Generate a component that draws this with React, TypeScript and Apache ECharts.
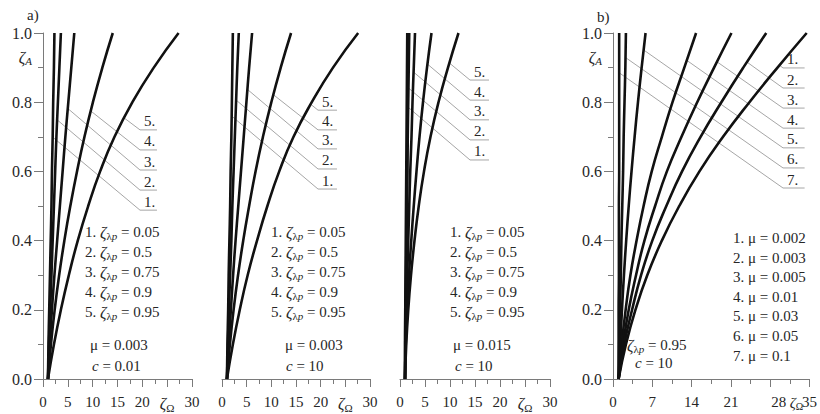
import React, { useEffect, useRef } from "react";
import * as echarts from "echarts";

// ---------- data ----------
const Y_LEVELS = [0, 0.1, 0.2, 0.3, 0.4, 0.5, 0.6, 0.7, 0.8, 0.9, 1.0];

// panel a) left: mu = 0.003, c = 0.01 ; curves 1..5 (zeta_lambda_p = 0.05, 0.5, 0.75, 0.9, 0.95)
const A1_C1 = [1.0, 1.1, 1.25, 1.4, 1.55, 1.7, 1.8, 1.95, 2.05, 2.2, 2.3];
const A1_C2 = [1.0, 1.2, 1.45, 1.7, 1.95, 2.2, 2.45, 2.7, 3.0, 3.3, 3.6];
const A1_C3 = [1.0, 1.35, 1.8, 2.3, 2.85, 3.4, 3.95, 4.5, 5.1, 5.7, 6.3];
const A1_C4 = [1.0, 1.6, 2.35, 3.25, 4.3, 5.5, 6.85, 8.35, 10.05, 11.95, 14.05];
const A1_C5 = [1.0, 2.2, 3.6, 5.2, 7.0, 9.1, 11.5, 14.4, 18.0, 22.3, 27.3];

// panel a) middle: mu = 0.003, c = 10
const A2_C1 = [1.0, 1.1, 1.25, 1.35, 1.5, 1.65, 1.75, 1.9, 2.0, 2.1, 2.2];
const A2_C2 = [1.0, 1.2, 1.4, 1.65, 1.9, 2.1, 2.35, 2.6, 2.85, 3.1, 3.4];
const A2_C3 = [1.0, 1.35, 1.8, 2.25, 2.75, 3.3, 3.85, 4.4, 4.95, 5.5, 6.1];
const A2_C4 = [1.0, 1.6, 2.35, 3.25, 4.3, 5.5, 6.8, 8.3, 10.0, 11.9, 14.0];
const A2_C5 = [1.0, 2.2, 3.6, 5.2, 7.1, 9.2, 11.6, 14.5, 18.2, 22.5, 27.6];

// panel a) right: mu = 0.015, c = 10
const A3_C1 = [1.0, 1.0, 1.05, 1.1, 1.15, 1.2, 1.25, 1.3, 1.35, 1.4, 1.45];
const A3_C2 = [1.0, 1.05, 1.1, 1.2, 1.3, 1.4, 1.5, 1.55, 1.65, 1.75, 1.85];
const A3_C3 = [1.0, 1.1, 1.25, 1.45, 1.65, 1.85, 2.05, 2.3, 2.5, 2.75, 3.0];
const A3_C4 = [1.0, 1.15, 1.45, 1.8, 2.25, 2.75, 3.3, 3.9, 4.6, 5.4, 6.3];
const A3_C5 = [1.0, 1.25, 1.65, 2.2, 2.9, 3.75, 4.8, 6.1, 7.7, 9.6, 11.7];

// panel b): zeta_lambda_p = 0.95, c = 10 ; mu = 0.002 ... 0.1
const B_C1 = [1.0, 2.3, 4.0, 6.1, 8.7, 11.8, 15.4, 19.6, 24.3, 29.3, 34.5];
const B_C2 = [1.0, 2.0, 3.4, 5.0, 7.0, 9.5, 12.3, 15.6, 19.3, 23.2, 27.3];
const B_C3 = [1.0, 1.8, 2.8, 4.1, 5.6, 7.5, 9.6, 12.2, 15.0, 18.0, 21.1];
const B_C4 = [1.0, 1.55, 2.25, 3.1, 4.2, 5.45, 6.9, 8.7, 10.6, 12.7, 14.8];
const B_C5 = [1.0, 1.3, 1.6, 1.95, 2.35, 2.8, 3.3, 3.85, 4.45, 5.1, 5.8];
const B_C6 = [1.0, 1.1, 1.25, 1.4, 1.5, 1.65, 1.8, 1.9, 2.05, 2.2, 2.3];
const B_C7 = [1.0, 1.0, 1.0, 1.05, 1.05, 1.05, 1.1, 1.1, 1.1, 1.1, 1.1];

// leader lines: start point on each curve, label corner y, [corner x, underline end x]
const A1_LEAD_START = [[1.95, 0.699], [2.85, 0.749], [4.9, 0.783], [9.5, 0.776], [16.2, 0.756]];
const A1_LEAD_Y = [0.488, 0.546, 0.604, 0.662, 0.72];
const A1_LEAD_X = [19.53, 22.95];
const A2_LEAD_START = [[1.96, 0.76], [2.87, 0.806], [5.15, 0.837], [10.3, 0.823], [17.9, 0.795]];
const A2_LEAD_Y = [0.549, 0.607, 0.665, 0.72, 0.777];
const A2_LEAD_X = [19.46, 23.31];
const A3_LEAD_START = [[1.34, 0.789], [1.69, 0.841], [2.72, 0.887], [5.5, 0.91], [9.9, 0.913]];
const A3_LEAD_Y = [0.633, 0.691, 0.749, 0.806, 0.864];
const A3_LEAD_X = [14.0, 17.8];
const B_LEAD_START = [[29.65, 0.907], [23.86, 0.916], [18.5, 0.917], [13.14, 0.921], [5.46, 0.951], [2.24, 0.929], [1.1, 0.885]];
const B_LEAD_Y = [0.899, 0.841, 0.783, 0.725, 0.668, 0.61, 0.552];
const B_LEAD_X = [30.28, 34.13];

// legend texts
const ZETA_LP = ["0.05", "0.5", "0.75", "0.9", "0.95"];
const MU_B = ["0.002", "0.003", "0.005", "0.01", "0.03", "0.05", "0.1"];
const A_MU = ["0.003", "0.003", "0.015"];
const A_C = ["0.01", "10", "10"];

const X_TICKS_A = [0, 30, 5];
const X_TICKS_B = [0, 35, 7];

// ---------- styles ----------
const FONT = "Liberation Serif";
const TXT = "#262626";
const AXIS = "#7a7a7a";
const CURVE = "#111111";
const LEADER = "#a6a6a6";

const RICH: any = {
  n: { fontFamily: FONT, fontSize: 15, color: TXT, fill: TXT },
  i: { fontFamily: FONT, fontSize: 15, fontStyle: "italic", color: TXT, fill: TXT },
  z: { fontFamily: FONT, fontSize: 16, fontStyle: "italic", color: TXT, fill: TXT },
  s: { fontFamily: FONT, fontSize: 11, color: TXT, fill: TXT, padding: [8, 0, 0, 0] },
  si: { fontFamily: FONT, fontSize: 11, fontStyle: "italic", color: TXT, fill: TXT, padding: [8, 0, 0, 0] },
  zb: { fontFamily: FONT, fontSize: 15, fontStyle: "italic", color: TXT, fill: TXT },
  sb: { fontFamily: FONT, fontSize: 10, color: TXT, fill: TXT, padding: [7, 0, 0, 0] },
  sh: { fontFamily: FONT, fontSize: 15, color: TXT, fill: TXT, padding: [0, 0, 0, 17] },
};

const GRIDS = [
  { left: 43, top: 33, width: 149, height: 346 },
  { left: 222, top: 33, width: 148, height: 346 },
  { left: 400, top: 33, width: 150, height: 346 },
  { left: 613, top: 33, width: 200, height: 346 },
];

const PANELS = [
  { curves: [A1_C1, A1_C2, A1_C3, A1_C4, A1_C5], start: A1_LEAD_START, ly: A1_LEAD_Y, lx: A1_LEAD_X },
  { curves: [A2_C1, A2_C2, A2_C3, A2_C4, A2_C5], start: A2_LEAD_START, ly: A2_LEAD_Y, lx: A2_LEAD_X },
  { curves: [A3_C1, A3_C2, A3_C3, A3_C4, A3_C5], start: A3_LEAD_START, ly: A3_LEAD_Y, lx: A3_LEAD_X },
  { curves: [B_C1, B_C2, B_C3, B_C4, B_C5, B_C6, B_C7], start: B_LEAD_START, ly: B_LEAD_Y, lx: B_LEAD_X },
];

function txt(x: number, y: number, text: string, align = "left", va = "middle"): any {
  return {
    type: "text",
    x,
    y,
    silent: true,
    z: 10,
    style: {
      text,
      rich: RICH,
      fontFamily: FONT,
      fontSize: 15,
      fill: TXT,
      textAlign: align,
      textVerticalAlign: va,
      align,
      verticalAlign: va,
    },
  };
}

function buildOption(): any {
  const xAxis = GRIDS.map((_, i) => {
    const isB = i === 3;
    const t = isB ? X_TICKS_B : X_TICKS_A;
    return {
      type: "value",
      gridIndex: i,
      min: t[0],
      max: t[1],
      interval: t[2],
      axisLine: { show: true, onZero: false, lineStyle: { color: AXIS, width: 1 } },
      axisTick: { show: true, length: 8, lineStyle: { color: AXIS } },
      minorTick: { show: true, splitNumber: 2, length: 5, lineStyle: { color: AXIS } },
      splitLine: { show: false },
      minorSplitLine: { show: false },
      axisLabel: {
        margin: 15,
        fontFamily: FONT,
        fontSize: 15,
        color: TXT,
        rich: RICH,
        showMinLabel: true,
        showMaxLabel: true,
        hideOverlap: false,
        formatter: (v: number) => {
          if (!isB && v === 25) return "{z|ζ}{s|Ω}";
          if (isB && v === 28) return "{sh|28}";
          return String(v);
        },
      },
    };
  });
  const yAxis = GRIDS.map((_, i) => {
    const show = i === 0 || i === 3;
    return {
      type: "value",
      gridIndex: i,
      min: 0,
      max: 1,
      interval: 0.2,
      show,
      axisLine: { show, lineStyle: { color: AXIS, width: 1 } },
      axisTick: { show, length: 9, lineStyle: { color: AXIS } },
      minorTick: { show, splitNumber: 2, length: 5, lineStyle: { color: AXIS } },
      splitLine: { show: false },
      minorSplitLine: { show: false },
      axisLabel: {
        show,
        margin: 11,
        fontFamily: FONT,
        fontSize: 16,
        color: TXT,
        formatter: (v: number) => v.toFixed(1),
      },
    };
  });

  const series: any[] = [];
  PANELS.forEach((p, gi) => {
    p.start.forEach((s, k) => {
      series.push({
        type: "line",
        xAxisIndex: gi,
        yAxisIndex: gi,
        data: [s, [p.lx[0], p.ly[k]], [p.lx[1], p.ly[k]]],
        showSymbol: false,
        symbol: "none",
        silent: true,
        z: 1,
        lineStyle: { color: LEADER, width: 1 },
      });
    });
    p.curves.forEach((c) => {
      series.push({
        type: "line",
        xAxisIndex: gi,
        yAxisIndex: gi,
        data: c.map((x, j) => [x, Y_LEVELS[j]]),
        smooth: 0.5,
        showSymbol: false,
        symbol: "none",
        silent: true,
        z: 3,
        lineStyle: { color: CURVE, width: 2.6 },
      });
    });
  });

  return {
    animation: false,
    backgroundColor: "#ffffff",
    grid: GRIDS.map((g) => ({ ...g, containLabel: false })),
    xAxis,
    yAxis,
    series,
  };
}

function staticTexts(): any[] {
  const g: any[] = [];
  g.push(txt(27, 15, "a)"));
  g.push(txt(597, 17, "b)"));
  // zeta_A labels on y axes
  g.push(txt(32, 57, "{z|ζ}{si|A}", "right"));
  g.push(txt(602, 57, "{z|ζ}{si|A}", "right"));
  // zeta_Omega on panel b x axis
  g.push(txt(796.5, 403, "{zb|ζ}{sb|Ω}", "center"));
  // panel a legends
  const listX = [85, 271, 450];
  const muX = [90, 285, 453];
  const cX = [92, 286, 455];
  const rows = [232, 252, 272, 292, 312];
  for (let p = 0; p < 3; p++) {
    ZETA_LP.forEach((v, k) => {
      g.push(txt(listX[p], rows[k], `{n|${k + 1}. }{z|ζ}{s|λ}{si|p}{n| = ${v}}`));
    });
    g.push(txt(muX[p], 345, `{n|μ = ${A_MU[p]}}`));
    g.push(txt(cX[p], 366, `{i|c}{n| = ${A_C[p]}}`));
  }
  // panel b legend
  const bRows = [238, 257.5, 277, 296.5, 316, 336, 356];
  MU_B.forEach((v, k) => {
    g.push(txt(733, bRows[k], `{n|${k + 1}. μ = ${v}}`));
  });
  g.push(txt(627, 345, "{z|ζ}{s|λ}{si|p}{n| = 0.95}"));
  g.push(txt(635, 363, "{i|c}{n| = 10}"));
  return g;
}

export default function App() {
  const ref = useRef<HTMLDivElement>(null);
  useEffect(() => {
    document.body.style.margin = "0";
    const chart = echarts.init(ref.current as HTMLDivElement, null, { renderer: "svg" });
    chart.setOption(buildOption());
    const g = staticTexts();
    PANELS.forEach((p, gi) => {
      p.ly.forEach((y, k) => {
        const pt = chart.convertToPixel({ gridIndex: gi } as any, [p.lx[0], y]) as number[];
        g.push(txt(pt[0] + 4, pt[1] - 1, `${k + 1}.`, "left", "bottom"));
      });
    });
    chart.setOption({ graphic: g });
    return () => chart.dispose();
  }, []);
  return (
    <div
      ref={ref}
      style={{ position: "absolute", left: 0, top: 0, width: 820, height: 414, background: "#fff" }}
    />
  );
}
